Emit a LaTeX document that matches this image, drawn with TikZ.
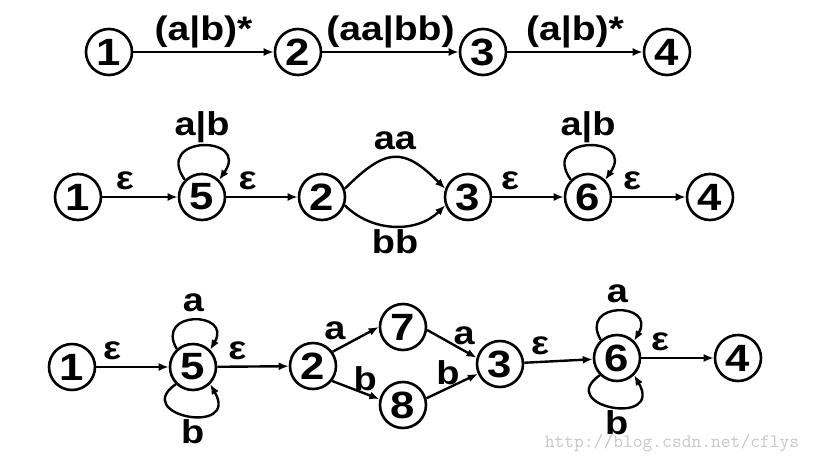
\documentclass[tikz,border=0pt]{standalone}
\usepackage{fontspec}
\usetikzlibrary{arrows.meta}
\newfontfamily\figfont{Liberation Sans}[FakeStretch=1.15]

\begin{document}
\begin{tikzpicture}[x=1pt, y=1pt,
    st/.style={draw, circle, line width=2.6pt, minimum size=46pt, inner sep=0pt,
               font=\figfont\bfseries\fontsize{38}{38}\selectfont},
    arr/.style={-{Latex[length=10pt,width=8pt]}, line width=2.4pt},
    lbl/.style={font=\figfont\bfseries\fontsize{33}{33}\selectfont, inner sep=2pt},
    rex/.style={font=\figfont\bfseries\fontsize{34}{34}\selectfont, inner sep=3pt},
    eps/.style={font=\figfont\bfseries\fontsize{33}{33}\selectfont, inner sep=2pt, above=4pt},
    wm/.style={font=\ttfamily\fontsize{19}{19}\selectfont, text=black!22, inner sep=0pt}
]
\useasboundingbox (0,0) rectangle (814,-464);

% regular expression
\node[st] (t1) at (109,-52) {1};
\node[st] (t2) at (298,-52) {2};
\node[st] (t3) at (483,-52) {3};
\node[st] (t4) at (667,-52) {4};
\draw[arr] (t1) -- node[rex, above] {(a|b)*} (t2);
\draw[arr] (t2) -- node[rex, above] {(aa|bb)} (t3);
\draw[arr] (t3) -- node[rex, above] {(a|b)*} (t4);

% first split
\node[st] (m1) at (78,-197) {1};
\node[st] (m5) at (202,-197) {5};
\node[st] (m2) at (322,-197) {2};
\node[st] (m3) at (468,-197) {3};
\node[st] (m6) at (588,-197) {6};
\node[st] (m4) at (710,-197) {4};
\draw[arr] (m1) -- node[eps, pos=0.3] {ε} (m5);
\draw[arr] (m5) -- node[eps, pos=0.3] {ε} (m2);
\draw[arr] (m3) -- node[eps, pos=0.25] {ε} (m6);
\draw[arr] (m6) -- node[eps, pos=0.27] {ε} (m4);
\draw[arr] (m2.20) to[out=45, in=135, looseness=1.5] node[lbl, above=5pt] {aa} (m3.160);
\draw[arr] (m2.-20) to[out=-45, in=-135, looseness=1.0] node[lbl, below] {bb} (m3.-160);
\draw[arr] (m5.135) .. controls +(125:55) and +(55:55) .. node[lbl, above] {a|b} (m5.45);
\draw[arr] (m6.135) .. controls +(125:55) and +(55:55) .. node[lbl, above] {a|b} (m6.45);

% single symbols
\node[st] (b1) at (72,-367) {1};
\node[st] (b5) at (193,-367) {5};
\node[st] (b2) at (313,-366) {2};
\node[st] (b7) at (403,-327) {7};
\node[st] (b8) at (403,-405) {8};
\node[st] (b3) at (500,-364) {3};
\node[st] (b6) at (617,-358) {6};
\node[st] (b4) at (738,-358) {4};
\draw[arr] (b1) -- node[eps, pos=0.22] {ε} (b5);
\draw[arr] (b5) -- node[eps, pos=0.28] {ε} (b2);
\draw[arr] (b2.36) -- node[lbl, above left, pos=0.35] {a} (b7.180);
\draw[arr] (b2.-38) -- node[lbl, above, pos=0.7] {b} (b8.166);
\draw[arr] (b7.-7) -- node[lbl, above=3pt, pos=0.75] {a} (b3.165);
\draw[arr] (b8.16) -- node[lbl, above, pos=0.42] {b} (b3.-156);
\draw[arr] (b3) -- node[eps, pos=0.23] {ε} (b6);
\draw[arr] (b6) -- node[eps, pos=0.26] {ε} (b4);
\draw[arr] (b5.132) .. controls +(120:45) and +(60:45) .. node[lbl, above=5pt] {a} (b5.45);
\draw[arr] (b5.225) .. controls +(215:55) and +(-60:60) .. node[lbl, below, pos=0.55] {b} (b5.-45);
\draw[arr] (b6.132) .. controls +(120:45) and +(60:45) .. node[lbl, above=5pt] {a} (b6.45);
\draw[arr] (b6.225) .. controls +(215:55) and +(-60:60) .. node[lbl, below, pos=0.55] {b} (b6.-45);

\node[wm] (url) at (672,-443) {http://blog.csdn.net/cflys};
\end{tikzpicture}
\end{document}
